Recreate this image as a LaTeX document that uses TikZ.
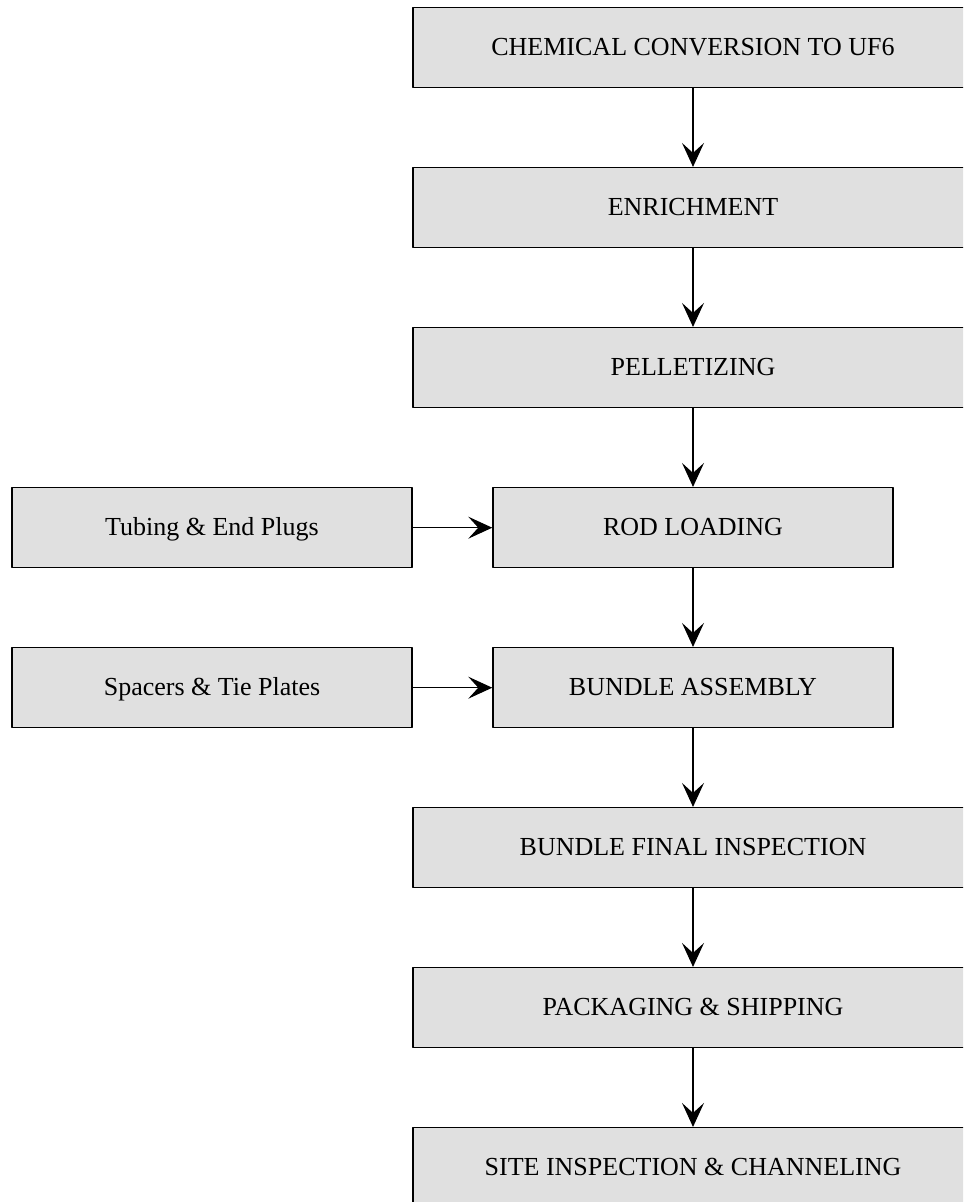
\documentclass[tikz,border=0pt]{standalone}
\usepackage{fontspec}
\setmainfont{Liberation Serif}
\usetikzlibrary{positioning,arrows.meta}
\definecolor{boxgray}{RGB}{224,224,224}
\begin{document}
\begin{tikzpicture}[x=0.5pt, y=-0.5pt, font=\fontsize{13}{15}\selectfont, line join=round,
        >={Stealth[length=12pt,width=11pt,inset=5pt]},
        stage/.style={draw=black, line width=0.75pt, fill=boxgray, minimum height=40pt, inner sep=0pt,
            text height=0.95em, text depth=0.21em},
        wide/.style={stage, minimum width=280pt},
        narrow/.style={stage, minimum width=200pt}]
            \def\gap{39.25pt}
            \useasboundingbox (0,0) rectangle (963,1202);
            \clip (0,0) rectangle (963,1202);
            \node[wide] (s1) at (693,47.7) {CHEMICAL CONVERSION TO UF6};
            \node[wide, below=\gap of s1] (s2) {ENRICHMENT};
            \node[wide, below=\gap of s2] (s3) {PELLETIZING};
            \node[narrow, below=\gap of s3] (s4) {ROD LOADING};
            \node[narrow, below=\gap of s4] (s5) {BUNDLE ASSEMBLY};
            \node[wide, below=\gap of s5] (s6) {BUNDLE FINAL INSPECTION};
            \node[wide, below=\gap of s6] (s7) {PACKAGING \& SHIPPING};
            \node[wide, below=\gap of s7] (s8) {SITE INSPECTION \& CHANNELING};
            \node[narrow, left=39.75pt of s4] (t1) {Tubing \& End Plugs};
            \node[narrow, left=39.75pt of s5] (t2) {Spacers \& Tie Plates};
            \foreach \a/\b in {s1/s2,s2/s3,s3/s4,s4/s5,s5/s6,s6/s7,s7/s8}\draw[->, line width=0.55pt] (\a) -- (\b);
            \draw[->, line width=0.55pt] (t1) -- (s4);
            \draw[->, line width=0.55pt] (t2) -- (s5);
    \end{tikzpicture}
\end{document}
